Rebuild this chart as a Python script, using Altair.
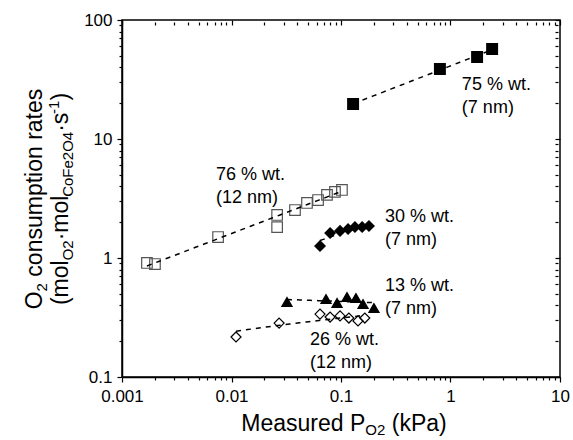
import altair as alt
import pandas as pd

FONT = "Liberation Sans"

# ---------------- data ----------------
series_names = ["75 % wt. (7 nm)", "76 % wt. (12 nm)", "30 % wt. (7 nm)",
                "13 % wt. (7 nm)", "26 % wt. (12 nm)"]

s75_p = [0.129, 0.80, 1.75, 2.4]
s75_r = [19.7, 38.7, 48.9, 57.0]

s76_p = [0.00169, 0.0020, 0.00754, 0.0261, 0.0261, 0.038, 0.0489, 0.0617, 0.0745, 0.0881, 0.102]
s76_r = [0.908, 0.89, 1.50, 2.30, 1.82, 2.53, 2.90, 3.07, 3.39, 3.59, 3.73]

s30_p = [0.0643, 0.0795, 0.098, 0.116, 0.134, 0.156, 0.180]
s30_r = [1.26, 1.62, 1.69, 1.75, 1.82, 1.82, 1.86]

s13_p = [0.0321, 0.073, 0.092, 0.1135, 0.137, 0.159, 0.200]
s13_r = [0.427, 0.452, 0.419, 0.470, 0.461, 0.410, 0.380]

s26_p = [0.0110, 0.0272, 0.0643, 0.0795, 0.098, 0.118, 0.143, 0.165]
s26_r = [0.217, 0.284, 0.338, 0.319, 0.326, 0.313, 0.296, 0.313]

pow_fit_series = ["75 % wt. (7 nm)", "76 % wt. (12 nm)", "30 % wt. (7 nm)"]
log_fit_series = ["13 % wt. (7 nm)", "26 % wt. (12 nm)"]

label_line1 = ["75 % wt.", "76 % wt.", "30 % wt.", "13 % wt.", "26 % wt."]
label_line2 = ["(7 nm)", "(12 nm)", "(7 nm)", "(7 nm)", "(12 nm)"]
label_p = [1.27, 0.00721, 0.252, 0.252, 0.0521]
label_r = [28.4, 4.98, 2.21, 0.582, 0.2046]   # centre of the first text line

x_tick_values = [m * 10.0 ** e for e in range(-3, 1) for m in range(1, 10)] + [10.0]
y_tick_values = [m * 10.0 ** e for e in range(-1, 2) for m in range(1, 10)] + [100.0]

# ---------------- tables ----------------
rows = []
for name, ps, rs in zip(series_names,
                        [s75_p, s76_p, s30_p, s13_p, s26_p],
                        [s75_r, s76_r, s30_r, s13_r, s26_r]):
    for p, r in zip(ps, rs):
        rows.append({"series": name, "P": p, "rate": r})
df = pd.DataFrame(rows)

labels_df = pd.DataFrame({
    "text": [a + "\n" + b for a, b in zip(label_line1, label_line2)],
    "P": label_p,
    "rate": label_r,
})

# ---------------- scales / axes ----------------
xs = alt.Scale(type="log", domain=[0.001, 10])
ys = alt.Scale(type="log", domain=[0.1, 100])
major = "abs(log(datum.value)/LN10 - round(log(datum.value)/LN10)) < 0.001"

def main_axis(values, pad):
    return alt.Axis(
        values=values,
        labelExpr=f"({major}) ? format(datum.value, '~g') : ''",
        tickSize={"condition": {"test": major, "value": 5}, "value": 3},
        labelFontSize=17, labelFont=FONT, labelColor="black",
        labelPadding=pad, labelOverlap=False, labelFlush=False,
        domainColor="black", domainWidth=1.5,
        tickColor="black", tickWidth=1.2, grid=False, title=None,
    )

def mirror_axis(values, orient):
    return alt.Axis(
        values=values, orient=orient, labels=False, domain=False,
        tickSize={"condition": {"test": major, "value": 5}, "value": 3},
        offset=-5, tickColor="black", tickWidth=1.2, grid=False, title=None,
    )

shape_range = ["square", "square", "diamond", "triangle-up", "diamond"]
fill_range = ["black", "transparent", "black", "black", "transparent"]
stroke_range = ["black", "#555555", "black", "black", "black"]
size_range = [115, 100, 160, 140, 150]

points = alt.Chart(df).mark_point(opacity=1, strokeWidth=1.2).encode(
    x=alt.X("P:Q", scale=xs, axis=main_axis(x_tick_values, 6)),
    y=alt.Y("rate:Q", scale=ys, axis=main_axis(y_tick_values, 5)),
    shape=alt.Shape("series:N", scale=alt.Scale(domain=series_names, range=shape_range), legend=None),
    fill=alt.Fill("series:N", scale=alt.Scale(domain=series_names, range=fill_range), legend=None),
    stroke=alt.Stroke("series:N", scale=alt.Scale(domain=series_names, range=stroke_range), legend=None),
    size=alt.Size("series:N", scale=alt.Scale(domain=series_names, range=size_range), legend=None),
)

mirror = alt.Chart(df).mark_point(opacity=0).encode(
    x=alt.X("P:Q", scale=xs, axis=mirror_axis(x_tick_values, "top")),
    y=alt.Y("rate:Q", scale=ys, axis=mirror_axis(y_tick_values, "right")),
)

def fit_layer(which, method):
    return alt.Chart(df).transform_filter(
        alt.FieldOneOfPredicate(field="series", oneOf=which)
    ).transform_regression(
        "P", "rate", method=method, groupby=["series"]
    ).mark_line(color="black", strokeDash=[5, 5], strokeWidth=1.5).encode(
        x=alt.X("P:Q", scale=xs, axis=None),
        y=alt.Y("rate:Q", scale=ys, axis=None),
        detail="series:N",
    )

fit_pow = fit_layer(pow_fit_series, "pow")
fit_log = fit_layer(log_fit_series, "log")

annotations = alt.Chart(labels_df).mark_text(
    align="left", baseline="middle", fontSize=18, font=FONT,
    lineHeight=23, lineBreak="\n", color="black",
).encode(
    x=alt.X("P:Q", scale=xs, axis=None),
    y=alt.Y("rate:Q", scale=ys, axis=None),
    text="text:N",
)

# ---------------- rich-text axis titles (subscripts) ----------------
W = {' ': 278, '(': 333, ')': 333, '.': 278, '\u00b7': 278, '-': 333, '%': 889,
     '0': 556, '1': 556, '2': 556, '3': 556, '4': 556, '5': 556, '6': 556,
     '7': 556, '8': 556, '9': 556, 'C': 722, 'F': 611, 'M': 833, 'O': 778,
     'P': 667, 'a': 556, 'c': 500, 'd': 556, 'e': 556, 'i': 222, 'k': 500,
     'l': 222, 'm': 833, 'n': 556, 'o': 556, 'p': 556, 'r': 333, 's': 500,
     't': 278, 'u': 556}

def tw(s, size):
    return sum(W.get(c, 556) for c in s) / 1000.0 * size

F, S = 23, 15
PW, PH = 438, 357

def h_pieces(pieces, cx, by):
    total = sum(tw(t, s) for t, s, _ in pieces)
    x = cx - total / 2
    out = []
    for t, s, sh in pieces:
        lead = len(t) - len(t.lstrip(" "))
        out.append((t.lstrip(" "), s, x + tw(" " * lead, s), by + sh, 0))
        x += tw(t, s)
    return out

def v_pieces(pieces, bx, cy):
    total = sum(tw(t, s) for t, s, _ in pieces)
    y = cy + total / 2
    out = []
    for t, s, sh in pieces:
        lead = len(t) - len(t.lstrip(" "))
        out.append((t.lstrip(" "), s, bx + sh, y - tw(" " * lead, s), 270))
        y -= tw(t, s)
    return out

title_parts = []
title_parts += h_pieces([("Measured P", F, 0), ("O2", S, 4), (" (kPa)", F, 0)], 222, 411)
title_parts += v_pieces([("O", F, 0), ("2", S, 5), (" consumption rates", F, 0)], -80, 179)
title_parts += v_pieces([("(mol", F, 0), ("O2", S, 5), ("\u00b7mol", F, 0),
                         ("CoFe2O4", S, 5), ("\u00b7s", F, 0), ("-1", S, -9),
                         (")", F, 0)], -54, 179)

title_layers = []
for t, s, px, py, ang in title_parts:
    title_layers.append(
        alt.Chart(pd.DataFrame({"t": [t]})).mark_text(
            text=t, align="left", baseline="alphabetic", angle=ang,
            fontSize=s, font=FONT, color="black",
        ).encode(x=alt.value(px), y=alt.value(py))
    )

chart = alt.layer(
    points, mirror, fit_pow, fit_log, annotations, *title_layers
).resolve_axis(
    x="independent", y="independent"
).properties(
    width=PW, height=PH,
    autosize=alt.AutoSizeParams(type="none"),
    padding={"left": 122, "top": 20, "right": 13, "bottom": 63},
    background="white",
).configure_view(
    stroke="black", strokeWidth=1.5,
)

chart.save("out.html", embed_options={"renderer": "svg", "actions": False})
